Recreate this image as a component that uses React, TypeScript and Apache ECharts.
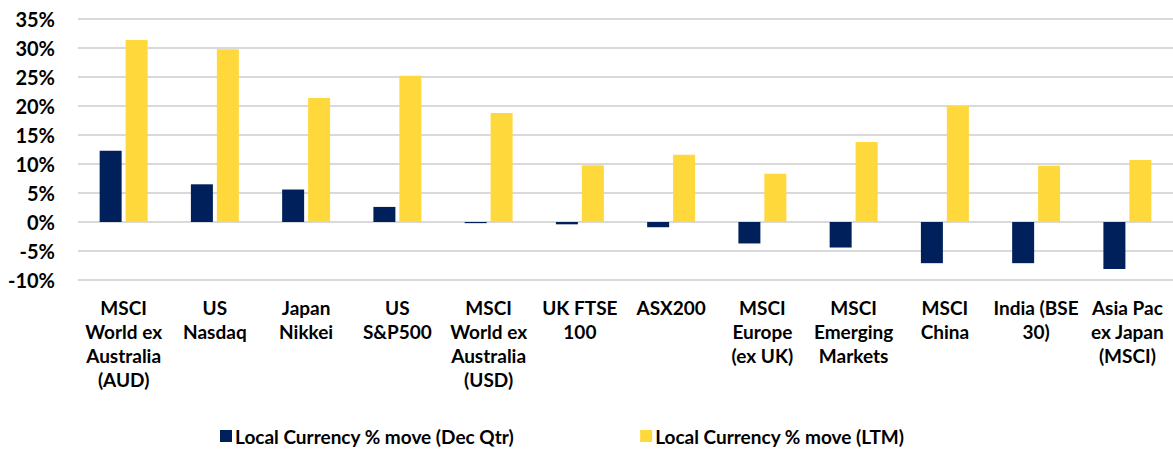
import React, { useEffect, useRef } from "react";
import * as echarts from "echarts";

const categories = [
  "MSCI\nWorld ex\nAustralia\n(AUD)",
  "US\nNasdaq",
  "Japan\nNikkei",
  "US\nS&P500",
  "MSCI\nWorld ex\nAustralia\n(USD)",
  "UK FTSE\n100",
  "ASX200",
  "MSCI\nEurope\n(ex UK)",
  "MSCI\nEmerging\nMarkets",
  "MSCI\nChina",
  "India (BSE\n30)",
  "Asia Pac\nex Japan\n(MSCI)",
];
const decQtr = [12.3, 6.5, 5.6, 2.6, -0.2, -0.4, -0.9, -3.7, -4.4, -7.1, -7.1, -8.1];
const ltm = [31.4, 29.8, 21.4, 25.2, 18.8, 9.8, 11.6, 8.3, 13.8, 20.0, 9.7, 10.7];
const seriesNames = ["Local Currency % move (Dec Qtr)", "Local Currency % move (LTM)"];

const FONT = "Lato, 'Open Sans', sans-serif";

export default function App() {
  const ref = useRef<HTMLDivElement>(null);
  useEffect(() => {
    if (!ref.current) return;
    const chart = echarts.init(ref.current, undefined, { renderer: "svg" });
    chart.setOption({
      animation: false,
      textStyle: { fontFamily: FONT },
      grid: { left: 78, right: -8, top: 19, bottom: 171, containLabel: false },
      legend: {
        left: 220,
        top: 426,
        padding: 0,
        itemWidth: 12,
        itemHeight: 12,
        itemGap: 126,
        icon: "rect",
        textStyle: {
          fontSize: 19,
          lineHeight: 20,
          fontWeight: "bold",
          color: "#000",
          fontFamily: FONT,
          padding: [0, 0, 0, -2],
        },
        data: seriesNames,
      },
      xAxis: {
        type: "category",
        data: categories,
        axisLine: { show: false },
        axisTick: { show: false },
        axisLabel: {
          interval: 0,
          fontSize: 19,
          fontWeight: "bold",
          color: "#000",
          fontFamily: FONT,
          lineHeight: 24,
          margin: 15,
          verticalAlign: "top",
        },
      },
      yAxis: {
        type: "value",
        min: -10,
        max: 35,
        interval: 5,
        axisLine: { show: false },
        axisTick: { show: false },
        splitLine: { lineStyle: { color: "#d9d9d9", width: 2 } },
        axisLabel: {
          formatter: "{value}%",
          fontSize: 20,
          fontWeight: "bold",
          color: "#000",
          fontFamily: FONT,
          margin: 23,
        },
      },
      series: [
        {
          name: seriesNames[0],
          type: "bar",
          data: decQtr,
          itemStyle: { color: "#00205B" },
          barWidth: 22,
          barGap: "18%",
        },
        {
          name: seriesNames[1],
          type: "bar",
          data: ltm,
          itemStyle: { color: "#FFD83B" },
          barWidth: 22,
          barGap: "18%",
        },
      ],
    });
    return () => chart.dispose();
  }, []);
  return (
    <div
      ref={ref}
      style={{ position: "fixed", left: 0, top: 0, width: 1173, height: 451, background: "#fff" }}
    />
  );
}
